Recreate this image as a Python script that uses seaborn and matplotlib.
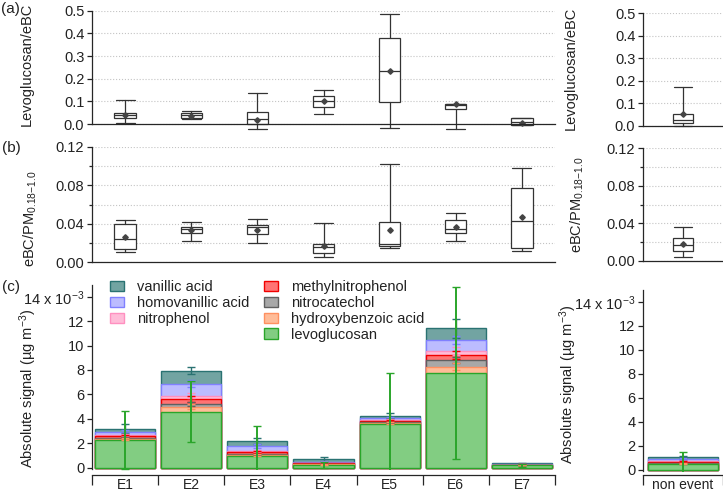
import numpy as np
import matplotlib
matplotlib.use("Agg")
import matplotlib.pyplot as plt
from matplotlib.patches import Patch
from matplotlib.ticker import MultipleLocator, FuncFormatter, FormatStrFormatter
import seaborn as sns

# ---------------- data ----------------
events = ["E1", "E2", "E3", "E4", "E5", "E6", "E7"]
nonevent = ["non event"]

# (a) levoglucosan / eBC box statistics
lev_whislo = [0.003, 0.022, -0.022, 0.046, -0.016, -0.024, -0.004]
lev_q1 = [0.025, 0.025, -0.001, 0.074, 0.095, 0.065, -0.004]
lev_med = [0.040, 0.038, 0.020, 0.103, 0.233, 0.083, 0.010]
lev_q3 = [0.047, 0.047, 0.051, 0.125, 0.380, 0.090, 0.025]
lev_whishi = [0.106, 0.057, 0.135, 0.150, 0.484, 0.090, 0.025]
lev_mean = [0.040, 0.035, 0.018, 0.103, 0.235, 0.087, 0.006]
lev_ne = dict(whislo=0.0, q1=0.010, med=0.025, q3=0.053, whishi=0.174, mean=0.050)

# (b) eBC / PM0.18-1.0 box statistics
ebc_whislo = [0.011, 0.0225, 0.0197, 0.006, 0.0145, 0.022, 0.0118]
ebc_q1 = [0.0135, 0.0308, 0.0294, 0.010, 0.0173, 0.030, 0.0145]
ebc_med = [0.0239, 0.035, 0.037, 0.0156, 0.0187, 0.035, 0.0429]
ebc_q3 = [0.0394, 0.037, 0.0387, 0.0187, 0.042, 0.044, 0.0768]
ebc_whishi = [0.0439, 0.042, 0.0446, 0.041, 0.102, 0.0515, 0.0975]
ebc_mean = [0.0266, 0.034, 0.034, 0.0173, 0.034, 0.037, 0.0467]
ebc_ne = dict(whislo=0.0043, q1=0.0103, med=0.0167, q3=0.0239, whishi=0.0363, mean=0.018)

# (c) absolute signal (x 10^-3 ug m-3), stacked bottom -> top
species = ["levoglucosan", "hydroxybenzoic acid", "nitrocatechol",
           "methylnitrophenol", "nitrophenol", "homovanillic acid", "vanillic acid"]
signal = {
    "levoglucosan":        [2.26, 4.58, 0.98, 0.22, 3.55, 7.78, 0.18],
    "hydroxybenzoic acid": [0.12, 0.40, 0.06, 0.05, 0.12, 0.50, 0.02],
    "nitrocatechol":       [0.06, 0.22, 0.06, 0.03, 0.06, 0.52, 0.01],
    "methylnitrophenol":   [0.14, 0.40, 0.20, 0.06, 0.12, 0.42, 0.03],
    "nitrophenol":         [0.10, 0.28, 0.10, 0.04, 0.08, 0.33, 0.01],
    "homovanillic acid":   [0.25, 1.00, 0.38, 0.10, 0.12, 0.90, 0.04],
    "vanillic acid":       [0.27, 1.05, 0.40, 0.20, 0.20, 0.95, 0.06],
}
signal_err = {
    "levoglucosan":        [2.40, 2.50, 2.43, 0.25, 4.20, 7.05, 0.10],
    "hydroxybenzoic acid": [0.08, 0.20, 0.05, 0.03, 0.08, 0.30, 0.02],
    "nitrocatechol":       [0.05, 0.15, 0.04, 0.02, 0.05, 0.25, 0.01],
    "methylnitrophenol":   [0.10, 0.25, 0.10, 0.04, 0.08, 0.30, 0.02],
    "nitrophenol":         [0.08, 0.20, 0.08, 0.03, 0.06, 0.30, 0.01],
    "homovanillic acid":   [0.15, 0.27, 0.15, 0.06, 0.10, 0.35, 0.03],
    "vanillic acid":       [0.35, 0.28, 0.22, 0.15, 0.20, 0.80, 0.05],
}
signal_ne = {
    "levoglucosan": 0.47, "hydroxybenzoic acid": 0.05, "nitrocatechol": 0.05,
    "methylnitrophenol": 0.12, "nitrophenol": 0.06, "homovanillic acid": 0.15,
    "vanillic acid": 0.20,
}
signal_ne_err = {
    "levoglucosan": 1.05, "hydroxybenzoic acid": 0.03, "nitrocatechol": 0.03,
    "methylnitrophenol": 0.05, "nitrophenol": 0.04, "homovanillic acid": 0.06,
    "vanillic acid": 0.10,
}

fills = {"levoglucosan": "#82cd82", "hydroxybenzoic acid": "#ffbc98",
         "nitrocatechol": "#a8a8a8", "methylnitrophenol": "#ff7474",
         "nitrophenol": "#ffbcd8", "homovanillic acid": "#bcbcff",
         "vanillic acid": "#72a4a2"}
edges = {"levoglucosan": "#2aa52a", "hydroxybenzoic acid": "#ff9060",
         "nitrocatechol": "#606060", "methylnitrophenol": "#f00000",
         "nitrophenol": "#ff90c0", "homovanillic acid": "#8080ff",
         "vanillic acid": "#2a7272"}

# ---------------- style ----------------
sns.set_theme(style="ticks")
plt.rcParams["font.family"] = ["Liberation Sans", "DejaVu Sans"]
plt.rcParams["mathtext.fontset"] = "custom"
plt.rcParams["mathtext.rm"] = "Liberation Sans"
plt.rcParams["mathtext.it"] = "Liberation Sans:italic"
plt.rcParams["axes.linewidth"] = 0.9
plt.rcParams["xtick.major.width"] = 0.9
plt.rcParams["ytick.major.width"] = 0.9
plt.rcParams["ytick.minor.width"] = 0.9
FS = 10.5
TXT = "#222222"

W, H = 723, 492
fig = plt.figure(figsize=(W / 100, H / 100), dpi=100)


def frame(left, top, right, bottom):
    return [left / W, 1 - bottom / H, (right - left) / W, (bottom - top) / H]


ax_a = fig.add_axes(frame(92, 10.7, 555, 130.8))
ax_a2 = fig.add_axes(frame(643, 13.3, 723, 132.4))
ax_b = fig.add_axes(frame(92, 146.7, 555, 262.3))
ax_b2 = fig.add_axes(frame(643, 148.3, 723, 260.7))
ax_c = fig.add_axes(frame(92, 284.5, 555, 470.1))
ax_c2 = fig.add_axes(frame(643, 289.7, 723, 472.4))

box_kw = dict(
    showmeans=True, showfliers=False, patch_artist=True,
    boxprops=dict(facecolor="white", edgecolor="#333333", linewidth=0.9),
    whiskerprops=dict(color="#333333", linewidth=0.9),
    capprops=dict(color="#333333", linewidth=0.9),
    medianprops=dict(color="#333333", linewidth=0.9),
    meanprops=dict(marker="D", markerfacecolor="#444444",
                   markeredgecolor="#444444", markersize=2.8),
)


def stats(lo, q1, med, q3, hi, mean):
    return [dict(whislo=a, q1=b, med=c, q3=d, whishi=e, mean=f, fliers=[])
            for a, b, c, d, e, f in zip(lo, q1, med, q3, hi, mean)]


def box_axis(ax, st, positions, width, ylim, major, minor, fmt, label, lab_xy):
    ax.bxp(st, positions=positions, widths=width, capwidths=width * 0.9, **box_kw)
    ax.set_ylim(*ylim)
    ax.set_xlim(positions[0] - 0.5, positions[-1] + 0.5)
    ax.spines["top"].set_visible(False)
    ax.spines["right"].set_visible(False)
    ax.spines["bottom"].set_position(("data", 0))
    ax.spines["left"].set_bounds(0, ylim[1])
    ax.set_xticks([])
    ax.yaxis.set_major_locator(MultipleLocator(major))
    ax.yaxis.set_major_formatter(FormatStrFormatter(fmt))
    if minor:
        ax.yaxis.set_minor_locator(MultipleLocator(minor))
        ax.tick_params(axis="y", which="minor", length=2.5, direction="out")
        ax.yaxis.grid(True, which="minor", linestyle=":", color="#c4c4c4", linewidth=0.8)
    ax.set_yticks([t for t in np.arange(0, ylim[1] + 1e-9, major)])
    ax.yaxis.grid(True, which="major", linestyle=":", color="#c4c4c4", linewidth=0.8)
    ax.set_axisbelow(True)
    ax.tick_params(axis="y", which="major", length=3.5, labelsize=FS, colors=TXT, pad=2)
    ax.set_ylabel(label, fontsize=FS, color=TXT)
    ax.yaxis.set_label_coords(*lab_xy)


box_axis(ax_a, stats(lev_whislo, lev_q1, lev_med, lev_q3, lev_whishi, lev_mean),
         list(range(7)), 0.32, (-0.03, 0.5), 0.1, None, "%.1f",
         "Levoglucosan/eBC", (-0.125, 0.55))
box_axis(ax_a2, [dict(lev_ne, fliers=[])], [0], 0.25, (-0.03, 0.5), 0.1, None, "%.1f",
         "Levoglucosan/eBC", (-0.81, 0.54))
box_axis(ax_b, stats(ebc_whislo, ebc_q1, ebc_med, ebc_q3, ebc_whishi, ebc_mean),
         list(range(7)), 0.32, (0, 0.12), 0.04, 0.02, "%.2f",
         r"eBC/PM$_{0.18\mathrm{-}1.0}$", (-0.114, 0.38))
box_axis(ax_b2, [dict(ebc_ne, fliers=[])], [0], 0.25, (0, 0.12), 0.04, 0.02, "%.2f",
         r"eBC/PM$_{0.18\mathrm{-}1.0}$", (-0.71, 0.5))


def signal_fmt(v, pos):
    if abs(v - 14) < 1e-6:
        return r"14 x 10$^{-3}$"
    return "%d" % round(v)


def stacked_axis(ax, cats, data, err, width, label, lab_xy, outward):
    values = np.array([data[s] for s in species], dtype=float).reshape(len(species), -1)
    errors = np.array([err[s] for s in species], dtype=float).reshape(len(species), -1)
    tops = np.cumsum(values, axis=0)
    # draw from the top layer down so each segment keeps its own colour
    for i in range(len(species) - 1, -1, -1):
        s = species[i]
        sns.barplot(x=cats, y=tops[i], color=fills[s], edgecolor=edges[s],
                    linewidth=1.0, width=width, saturation=1, errorbar=None, ax=ax)
    xs = np.arange(len(cats))
    for i in range(len(species) - 1, -1, -1):
        s = species[i]
        ax.errorbar(xs, tops[i], yerr=errors[i], fmt="none", ecolor=edges[s],
                    elinewidth=1.4 if i == 0 else 1.0, capsize=3.2, capthick=1.0,
                    zorder=5 if i == 0 else 4)
    ax.set_ylim(-0.2, 15)
    ax.set_xlim(-0.5, len(cats) - 0.5)
    ax.spines["top"].set_visible(False)
    ax.spines["right"].set_visible(False)
    ax.spines["bottom"].set_position(("outward", outward))
    ax.spines["left"].set_bounds(-0.1, 15)
    ax.set_yticks(np.arange(0, 15, 2))
    ax.yaxis.set_major_formatter(FuncFormatter(signal_fmt))
    ax.tick_params(axis="y", length=3.5, labelsize=FS, colors=TXT, pad=2)
    ax.set_xticks(np.arange(-0.5, len(cats), 1.0))
    ax.set_xticklabels([])
    ax.set_xticks(xs, minor=True)
    ax.set_xticklabels(cats, minor=True)
    ax.tick_params(axis="x", which="major", length=7, direction="out")
    ax.tick_params(axis="x", which="minor", length=0, labelsize=10, colors=TXT, pad=2)
    ax.set_xlabel("")
    ax.set_ylabel(label, fontsize=FS, color=TXT)
    ax.yaxis.set_label_coords(*lab_xy)


sig_label = r"Absolute signal (µg m$^{-3}$)"
stacked_axis(ax_c, events, signal, signal_err, 0.91, sig_label, (-0.114, 0.44), 3.6)
stacked_axis(ax_c2, nonevent, signal_ne, signal_ne_err, 0.87, sig_label, (-0.8, 0.48), 1.9)

# legend: 3 entries left column, 4 entries right column
legend_order = ["vanillic acid", "homovanillic acid", "nitrophenol", None,
                "methylnitrophenol", "nitrocatechol", "hydroxybenzoic acid", "levoglucosan"]
handles, labels = [], []
for s in legend_order:
    if s is None:
        handles.append(Patch(facecolor="none", edgecolor="none"))
        labels.append("")
    else:
        handles.append(Patch(facecolor=fills[s], edgecolor=edges[s], linewidth=1.0))
        labels.append(s)
fig.legend(handles, labels, ncol=2, frameon=False, fontsize=FS,
           loc="upper left", bbox_to_anchor=(110 / W, 1 - 280 / H),
           handlelength=0.95, handleheight=0.7, handletextpad=0.9,
           columnspacing=1.0, labelspacing=0.13, borderaxespad=0, borderpad=0,
           labelcolor=TXT)

fig.text(1 / W, 1 - 9 / H, "(a)", fontsize=11, color=TXT, va="center", ha="left")
fig.text(2 / W, 1 - 148 / H, "(b)", fontsize=11, color=TXT, va="center", ha="left")
fig.text(2 / W, 1 - 287 / H, "(c)", fontsize=11, color=TXT, va="center", ha="left")

fig.savefig("out.png", dpi=100)
